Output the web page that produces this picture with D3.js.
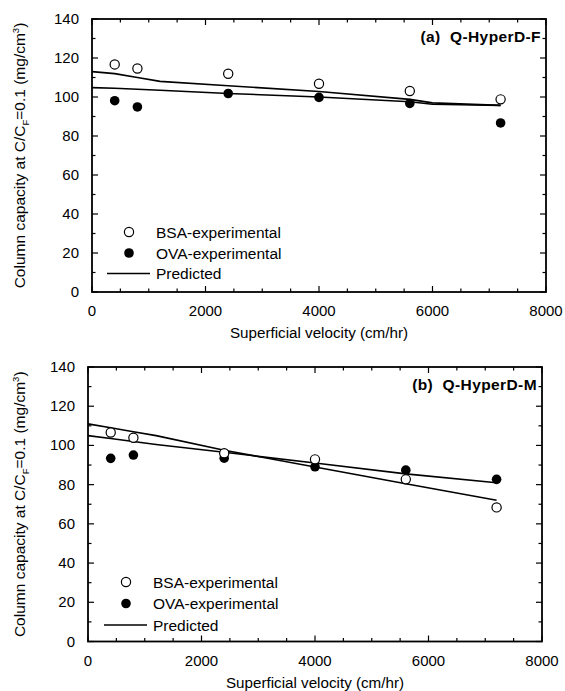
<!DOCTYPE html>
<html>
<head>
<meta charset="utf-8">
<script src="https://cdn.jsdelivr.net/npm/d3@7"></script>
<style>
  body { margin: 0; background: #fff; }
  svg { display: block; font-family: 'Liberation Sans', Arial, sans-serif; }
</style>
</head>
<body>
<svg id="chart" width="565" height="691"></svg>
<script>
// ---- Data ----
const velocity = [400, 800, 2400, 4000, 5600, 7200];

// (a) Q-HyperD-F
const bsaF = [116.7, 114.6, 111.9, 106.8, 103.1, 98.8];
const ovaF = [98.1, 94.9, 101.8, 99.8, 96.7, 86.7];
const predVelF = [0, 400, 800, 1200, 2400, 4000, 5600, 6000, 7200];
const predBsaF = [113, 112, 110, 108, 105.8, 102.8, 98.8, 97, 95.7];
const predOvaF = [104.8, 104.5, 104, 103.5, 101.8, 100, 97.6, 96.3, 95.7];

// (b) Q-HyperD-M
const bsaM = [106.6, 103.9, 96, 92.9, 82.7, 68.4];
const ovaM = [93.4, 95.1, 93.5, 89.1, 87.4, 82.7];
const predVelM = [0, 400, 800, 1200, 2400, 4000, 5600, 7200];
const predBsaM = [111, 109, 107, 105, 97.5, 89, 80.5, 72];
const predOvaM = [105, 103.5, 102, 100.5, 96.5, 91, 85.5, 81];

const xTicks = [0, 2000, 4000, 6000, 8000];
const yTicks = [0, 20, 40, 60, 80, 100, 120, 140];
const legendLabels = ['BSA-experimental', 'OVA-experimental', 'Predicted'];

const panels = [
  { label: '(a)  Q-HyperD-F', box: [92, 546, 19, 292], bsa: bsaF, ova: ovaF,
    predX: predVelF, predA: predBsaF, predB: predOvaF, gap: ' ',
    legend: [129, 156, 107, 150, 232, 253, 273.5], labelY: 36 },
  { label: '(b)  Q-HyperD-M', box: [88, 542, 367, 641.5], bsa: bsaM, ova: ovaM,
    predX: predVelM, predA: predBsaM, predB: predOvaM, gap: '  ',
    legend: [126, 153, 104, 147, 582, 603.5, 625], labelY: 384 }
];

const svg = d3.select('#chart');

panels.forEach(function (p) {
  const [x0, x1, y0, y1] = p.box;
  const x = d3.scaleLinear().domain([0, 8000]).range([x0, x1]);
  const y = d3.scaleLinear().domain([0, 140]).range([y1, y0]);
  const g = svg.append('g');

  // Ticks (inward, mirrored on all sides)
  const tickG = g.append('g').attr('stroke', '#000').attr('stroke-width', 1.2);
  d3.range(0, 8001, 500).forEach(function (v) {
    const len = v % 2000 === 0 ? 6 : 3.5;
    tickG.append('line').attr('x1', x(v)).attr('x2', x(v)).attr('y1', y1).attr('y2', y1 - len);
    tickG.append('line').attr('x1', x(v)).attr('x2', x(v)).attr('y1', y0).attr('y2', y0 + len);
  });
  d3.range(0, 141, 10).forEach(function (v) {
    const len = v % 20 === 0 ? 6 : 3.5;
    tickG.append('line').attr('y1', y(v)).attr('y2', y(v)).attr('x1', x0).attr('x2', x0 + len);
    tickG.append('line').attr('y1', y(v)).attr('y2', y(v)).attr('x1', x1).attr('x2', x1 - len);
  });

  // Frame
  g.append('rect')
    .attr('x', x0).attr('y', y0)
    .attr('width', x1 - x0).attr('height', y1 - y0)
    .attr('fill', 'none').attr('stroke', '#000').attr('stroke-width', 1.8);

  // Tick labels
  g.append('g').selectAll('text').data(xTicks).enter().append('text')
    .attr('x', function (d) { return x(d); })
    .attr('y', y1 + 24)
    .attr('text-anchor', 'middle')
    .attr('font-size', 15)
    .text(function (d) { return d; });
  g.append('g').selectAll('text').data(yTicks).enter().append('text')
    .attr('x', x0 - 13)
    .attr('y', function (d) { return y(d) + 5; })
    .attr('text-anchor', 'end')
    .attr('font-size', 15)
    .text(function (d) { return d; });

  // Axis titles
  g.append('text')
    .attr('x', (x0 + x1) / 2)
    .attr('y', y1 + 46)
    .attr('text-anchor', 'middle')
    .attr('font-size', 15.2)
    .text('Superficial velocity (cm/hr)');

  const yt = g.append('text')
    .attr('transform', 'translate(' + 25 + ',' + (y0 + y1) / 2 + ') rotate(-90)')
    .attr('text-anchor', 'middle')
    .attr('font-size', 15.5);
  yt.append('tspan').text('Column capacity at C/C');
  yt.append('tspan').attr('font-size', 9.5).attr('dy', 4).text('F');
  yt.append('tspan').attr('dy', -4).text('=0.1' + p.gap + '(mg/cm');
  yt.append('tspan').attr('font-size', 9.5).attr('dy', -6).text('3');
  yt.append('tspan').attr('dy', 6).text(')');

  // Panel label
  g.append('text')
    .attr('x', x1 - 5)
    .attr('y', p.labelY + 5.5)
    .attr('text-anchor', 'end')
    .attr('font-size', 15.5)
    .attr('font-weight', 'bold')
    .attr('letter-spacing', 0.4)
    .attr('xml:space', 'preserve')
    .style('white-space', 'pre')
    .text(p.label);

  // Predicted lines
  const line = d3.line()
    .x(function (d) { return x(d[0]); })
    .y(function (d) { return y(d[1]); });
  [p.predA, p.predB].forEach(function (vals) {
    g.append('path')
      .datum(p.predX.map(function (v, i) { return [v, vals[i]]; }))
      .attr('d', line)
      .attr('fill', 'none')
      .attr('stroke', '#000')
      .attr('stroke-width', 1.6);
  });

  // Experimental points
  g.append('g').selectAll('circle').data(velocity).enter().append('circle')
    .attr('cx', function (d) { return x(d); })
    .attr('cy', function (d, i) { return y(p.ova[i]); })
    .attr('r', 4.8)
    .attr('fill', '#000');
  g.append('g').selectAll('circle').data(velocity).enter().append('circle')
    .attr('cx', function (d) { return x(d); })
    .attr('cy', function (d, i) { return y(p.bsa[i]); })
    .attr('r', 4.6)
    .attr('fill', '#fff')
    .attr('stroke', '#000')
    .attr('stroke-width', 1.2);

  // Legend
  const [cx, tx, lx0, lx1, ly0, ly1, ly2] = p.legend;
  g.append('circle').attr('cx', cx).attr('cy', ly0).attr('r', 4.6)
    .attr('fill', '#fff').attr('stroke', '#000').attr('stroke-width', 1.2);
  g.append('circle').attr('cx', cx).attr('cy', ly1).attr('r', 4.8).attr('fill', '#000');
  g.append('line').attr('x1', lx0).attr('x2', lx1).attr('y1', ly2).attr('y2', ly2)
    .attr('stroke', '#000').attr('stroke-width', 1.6);
  [ly0, ly1, ly2].forEach(function (ly, i) {
    g.append('text')
      .attr('x', tx)
      .attr('y', ly + 5.5)
      .attr('font-size', 15.5)
      .text(legendLabels[i]);
  });
});
</script>
</body>
</html>
